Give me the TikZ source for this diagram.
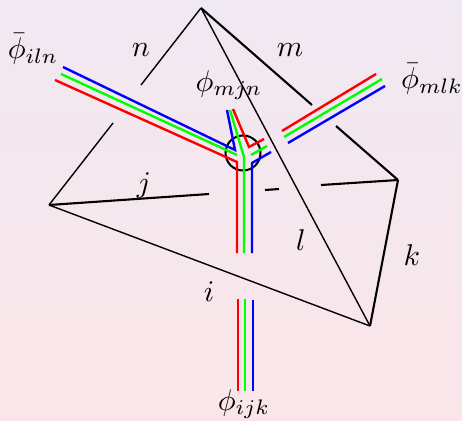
\documentclass[tikz,border=0pt]{standalone}
\begin{document}
\begin{tikzpicture}[x=1pt,y=-1pt,
  thinedge/.style={line width=1.4pt,black},
  thickedge/.style={line width=2.1pt,black},
  rl/.style={line width=2.4pt,red},
  gl/.style={line width=2.4pt,green},
  bl/.style={line width=2.4pt,blue},
  lab/.style={inner sep=0pt,scale=3}]
\definecolor{bgtop}{RGB}{240,232,242}
\definecolor{bgbot}{RGB}{250,230,233}
\shade[top color=bgtop,bottom color=bgbot,draw=none] (0,0) rectangle (462,420);
\useasboundingbox (0,0) rectangle (462,420);
\coordinate (T) at (201,8);
\coordinate (L) at (49,205);
\coordinate (R) at (398,180);
\coordinate (B) at (370,326);
\coordinate (n1) at (141,85);
\coordinate (n2) at (113,123);
\coordinate (m1) at (312,105);
\coordinate (m2) at (336,126);
\coordinate (j1) at (209,194);
\coordinate (j2) at (265,190);
\coordinate (j3) at (279,189);
\coordinate (j4) at (321,185);
% edges
\draw[thinedge] (T)--(n1) (n2)--(L);
\draw[thinedge] (T)--(B);
\draw[thinedge] (L)--(B);
\draw[thickedge] (T)--(m1) (m2)--(R);
\draw[thickedge] (L)--(j1) (j2)--(j3) (j4)--(R);
\draw[thickedge] (R)--(B);
% vertex circle
\node[draw,circle,line width=2pt,minimum size=35pt,inner sep=0pt] (V) at (243,153) {};
% ribbons
\draw[bl,line join=miter] (63,67)--(235,150)--(227,110);
\draw[gl] (61,74)--(237,155);
\draw[gl,line join=miter] (230,110)--(244,157)--(244,253);
\draw[gl] (251,155)--(267,146);
\draw[rl,line join=miter] (55,80)--(237,162)--(237,253);
\draw[bl,line join=miter] (252,253)--(252,163)--(271,152);
\draw[rl,line join=miter] (233,109)--(249,147)--(264,139);
\draw[rl] (282,131)--(376,74);
\draw[gl] (284,137)--(382,79);
\draw[bl] (288,143)--(385,86);
\draw[rl] (238,299)--(238,391);
\draw[gl] (245,299)--(245,391);
\draw[bl] (253,300)--(253,391);
% labels
\node[lab] (ln) at (141,50) {$n$};
\node[lab] (lm) at (290,50) {$m$};
\node[lab] (lj) at (144,186) {$j$};
\node[lab] (ll) at (301,240) {$l$};
\node[lab] (lk) at (412,255) {$k$};
\node[lab] (li) at (209,292) {$i$};
\node[lab] (p1) at (33,49) {$\bar\phi_{iln}$};
\node[lab] (p2) at (229,85) {$\phi_{mjn}$};
\node[lab] (p3) at (432,79) {$\bar\phi_{mlk}$};
\node[lab] (p4) at (244,404) {$\phi_{ijk}$};
\end{tikzpicture}
\end{document}
